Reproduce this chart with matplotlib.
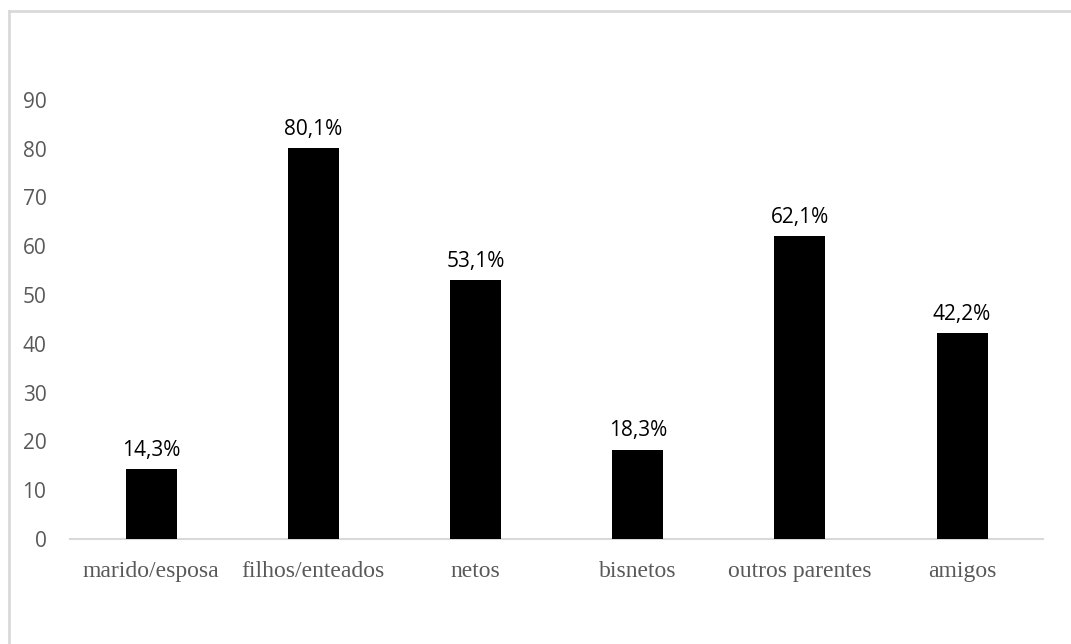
import matplotlib.pyplot as plt
from matplotlib.lines import Line2D

categorias = ['marido/esposa', 'filhos/enteados', 'netos', 'bisnetos', 'outros parentes', 'amigos']
valores = [14.3, 80.1, 53.1, 18.3, 62.1, 42.2]
rotulos = ['14,3%', '80,1%', '53,1%', '18,3%', '62,1%', '42,2%']
yticks = [0, 10, 20, 30, 40, 50, 60, 70, 80, 90]

fig = plt.figure(figsize=(10.71, 6.44), dpi=100)
ax = fig.add_axes([0.0654, 0.163, 0.9086, 0.682])

x = range(len(categorias))
bars = ax.bar(x, valores, width=0.315, color='black', zorder=3)

for b, r in zip(bars, rotulos):
    ax.text(b.get_x() + b.get_width() / 2, b.get_height() + 1.7, r,
            ha='center', va='bottom', fontsize=15, family='Open Sans', color='black')

ax.set_xlim(-0.5, 5.5)
ax.set_ylim(0, 90)
ax.set_yticks(yticks)
ax.set_xticks(list(x))
ax.set_xticklabels(categorias, family='Liberation Serif', fontsize=17, color='#595959')
for lab in ax.get_yticklabels():
    lab.set_family('Open Sans')
    lab.set_fontsize(15)
    lab.set_color('#595959')

for s in ['top', 'right', 'left']:
    ax.spines[s].set_visible(False)
ax.spines['bottom'].set_color('#d9d9d9')
ax.spines['bottom'].set_linewidth(1.5)
ax.tick_params(axis='both', length=0)
ax.tick_params(axis='x', pad=16)
ax.tick_params(axis='y', pad=17)

# outer frame (only top and left visible)
fig.add_artist(Line2D([9 / 1071, 1.0], [1 - 11 / 644, 1 - 11 / 644], color='#d9d9d9', lw=2))
fig.add_artist(Line2D([9 / 1071, 9 / 1071], [0, 1 - 11 / 644], color='#d9d9d9', lw=2))

fig.savefig('out.png', dpi=100)
